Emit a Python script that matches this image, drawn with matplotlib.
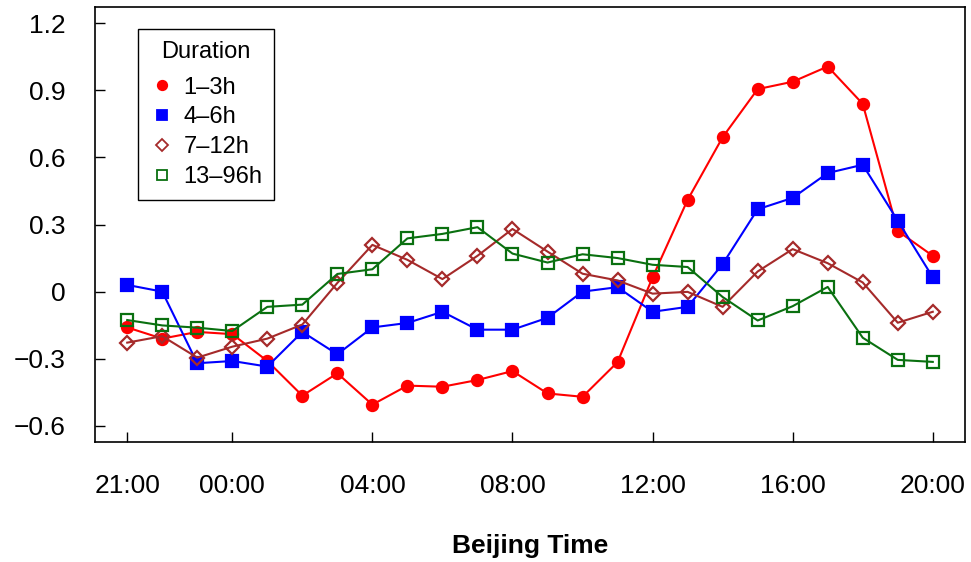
import matplotlib
matplotlib.use('Agg')
import matplotlib.pyplot as plt
from matplotlib.lines import Line2D

plt.rcParams['font.family'] = ['Liberation Sans', 'DejaVu Sans']

# hourly points from 21:00 to 20:00 (24 values)
hours = list(range(24))
tick_pos = [0, 3, 7, 11, 15, 19, 23]
tick_labels = ['21:00', '00:00', '04:00', '08:00', '12:00', '16:00', '20:00']

dur_1_3 = [-0.16, -0.21, -0.18, -0.19, -0.31, -0.465, -0.365, -0.505, -0.42, -0.425,
           -0.395, -0.355, -0.455, -0.47, -0.315, 0.064, 0.41, 0.69, 0.905, 0.938,
           1.006, 0.839, 0.271, 0.16]
dur_4_6 = [0.03, 0.0, -0.32, -0.31, -0.335, -0.18, -0.28, -0.16, -0.14, -0.09,
           -0.17, -0.17, -0.117, 0.0, 0.02, -0.09, -0.068, 0.123, 0.368, 0.419,
           0.53, 0.567, 0.317, 0.064]
dur_7_12 = [-0.228, -0.199, -0.295, -0.246, -0.21, -0.147, 0.039, 0.209, 0.142, 0.056,
            0.16, 0.28, 0.179, 0.08, 0.05, -0.009, -0.001, -0.068, 0.09, 0.19,
            0.127, 0.041, -0.139, -0.09]
dur_13_96 = [-0.127, -0.151, -0.161, -0.176, -0.068, -0.058, 0.079, 0.10, 0.238, 0.258,
             0.288, 0.17, 0.13, 0.167, 0.15, 0.12, 0.11, -0.024, -0.129, -0.065,
             0.021, -0.206, -0.305, -0.314]

yticks = [-0.6, -0.3, 0, 0.3, 0.6, 0.9, 1.2]
ytick_labels = ['\u22120.6', '\u22120.3', '0', '0.3', '0.6', '0.9', '1.2']

series = [
    (dur_1_3, '1\u20133h', '#ff0000', 'o', True, 8),
    (dur_4_6, '4\u20136h', '#0000ff', 's', True, 8),
    (dur_7_12, '7\u201312h', '#a52a2a', 'D', False, 7),
    (dur_13_96, '13\u201396h', '#0a7010', 's', False, 8),
]

fig = plt.figure(figsize=(9.71, 5.62), dpi=100)
ax = fig.add_axes([95/971, 1-442/562, 870/971, 435/562])

handles = []
for vals, lab, col, mk, filled, ms in series:
    fc = col if filled else 'none'
    ax.plot(hours, vals, color=col, lw=1.5, marker=mk, ms=ms,
            mfc=fc, mec=col, mew=1.6)
    handles.append(Line2D([], [], ls='none', marker=mk, color=col,
                          mfc=fc, mec=col, mew=1.3, ms=ms - 1.2, label=lab))

ax.set_xlim(-0.92, 23.92)
ax.set_ylim(-0.672, 1.272)
ax.set_xticks(tick_pos)
ax.set_xticklabels(tick_labels)
ax.set_yticks(yticks)
ax.set_yticklabels(ytick_labels)
ax.tick_params(direction='in', length=7, width=1, labelsize=19)
ax.tick_params(axis='x', pad=23)
ax.tick_params(axis='y', pad=21)
for sp in ax.spines.values():
    sp.set_linewidth(1.2)

ax.set_xlabel('Beijing Time', fontsize=19, fontweight='bold', labelpad=26)

leg = ax.legend(handles=handles, title='Duration', loc='upper left',
                bbox_to_anchor=((138-95)/870, 1-(29-7)/435), borderaxespad=0,
                fontsize=17, title_fontsize=17, fancybox=False, edgecolor='black',
                handlelength=1.0, handletextpad=0.42, labelspacing=0.33,
                borderpad=0.5, framealpha=1)
leg.get_frame().set_linewidth(1.0)
leg._legend_box.sep = 10

fig.savefig('out.png', dpi=100)
